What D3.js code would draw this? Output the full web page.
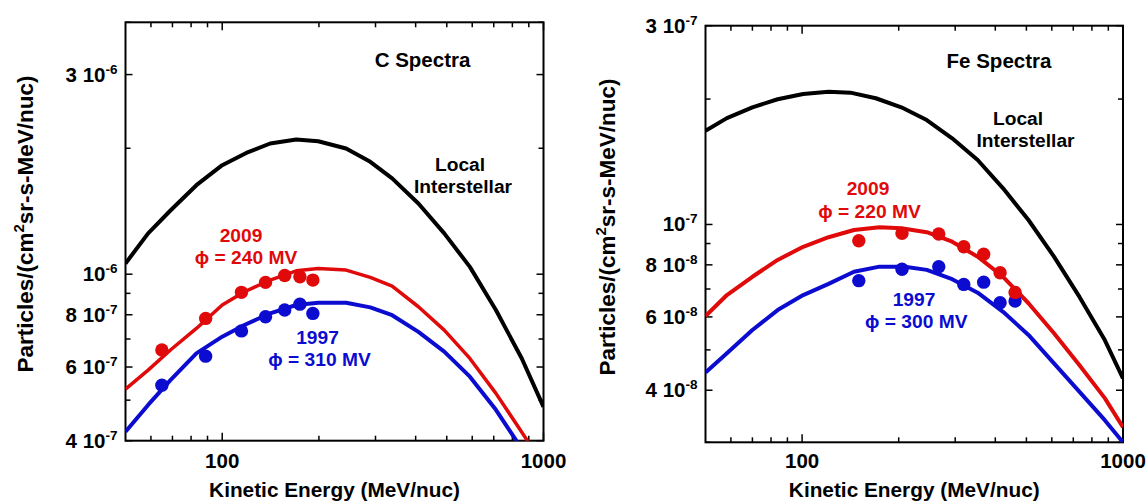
<!DOCTYPE html>
<html>
<head>
<meta charset="utf-8">
<script src="https://cdn.jsdelivr.net/npm/d3@7"></script>
<style>
  html, body { margin: 0; padding: 0; background: #fff; }
  svg text { font-family: "Liberation Sans", Arial, Helvetica, sans-serif; font-weight: bold; }
</style>
</head>
<body>
<svg id="chart" width="1146" height="504"></svg>
<script>
// ---------- DATA ----------
// C panel
const cLisE = [50, 58.8, 69, 83.1, 100, 118.8, 141, 170, 199, 243, 289, 338, 408, 491, 590, 711, 856, 1000];
const cLisF = [1.061e-6, 1.252e-6, 1.42e-6, 1.632e-6, 1.822e-6, 1.949e-6, 2.053e-6, 2.098e-6, 2.079e-6, 1.997e-6, 1.856e-6, 1.694e-6, 1.476e-6, 1.252e-6, 1.041e-6, 8.21e-7, 6.29e-7, 4.82e-7];
const c2009ModelE = [50, 58.8, 69, 83.1, 100, 117.2, 141, 170, 199, 243, 289, 338, 408, 491, 590, 711, 834, 891, 1000];
const c2009ModelF = [5.31e-7, 5.9e-7, 6.59e-7, 7.42e-7, 8.44e-7, 9.08e-7, 9.68e-7, 1.019e-6, 1.032e-6, 1.023e-6, 9.83e-7, 9.36e-7, 8.36e-7, 7.35e-7, 6.29e-7, 5.19e-7, 4.32e-7, 4.0e-7, 3.5e-7];
const c1997ModelE = [50, 58.8, 69, 83.1, 100, 117.2, 141, 170, 199, 243, 289, 338, 408, 491, 590, 711, 823, 1000];
const c1997ModelF = [4.20e-7, 4.87e-7, 5.58e-7, 6.47e-7, 7.09e-7, 7.56e-7, 8.06e-7, 8.44e-7, 8.55e-7, 8.55e-7, 8.33e-7, 7.98e-7, 7.28e-7, 6.53e-7, 5.69e-7, 4.74e-7, 4.0e-7, 3.3e-7];
const cDataE = [64.9, 88.8, 114.8, 136.4, 156.5, 174.5, 191.5];
const c2009Data = [6.59e-7, 7.84e-7, 9.05e-7, 9.56e-7, 9.93e-7, 9.86e-7, 9.68e-7];
const c1997Data = [5.43e-7, 6.37e-7, 7.32e-7, 7.91e-7, 8.21e-7, 8.48e-7, 8.06e-7];
const cYLabels = [4e-7, 6e-7, 8e-7, 1e-6, 3e-6];

// Fe panel
const feLisE = [50, 58.3, 70, 83.9, 100.8, 120.9, 141.4, 169.7, 203.8, 244.6, 293.5, 352.5, 423, 507.5, 609.5, 731, 877.6, 1000];
const feLisF = [1.679e-7, 1.80e-7, 1.911e-7, 1.998e-7, 2.057e-7, 2.083e-7, 2.072e-7, 2.009e-7, 1.911e-7, 1.781e-7, 1.61e-7, 1.428e-7, 1.221e-7, 1.025e-7, 8.37e-8, 6.71e-8, 5.28e-8, 4.27e-8];
const fe2009ModelE = [50, 58.3, 70, 83.9, 100.8, 120.9, 145.1, 174.3, 203.8, 244.6, 293.5, 352.5, 423, 507.5, 609.5, 731, 877.6, 1000];
const fe2009ModelF = [6.03e-8, 6.77e-8, 7.49e-8, 8.22e-8, 8.84e-8, 9.32e-8, 9.70e-8, 9.85e-8, 9.79e-8, 9.58e-8, 9.09e-8, 8.37e-8, 7.49e-8, 6.47e-8, 5.48e-8, 4.60e-8, 3.83e-8, 3.26e-8];
const fe1997ModelE = [50, 58.3, 70, 83.9, 100.8, 120.9, 145.1, 174.3, 209, 244.6, 293.5, 352.5, 423, 507.5, 609.5, 731, 877.6, 1000];
const fe1997ModelF = [4.41e-8, 4.91e-8, 5.58e-8, 6.23e-8, 6.77e-8, 7.20e-8, 7.70e-8, 7.92e-8, 7.92e-8, 7.78e-8, 7.39e-8, 6.86e-8, 6.17e-8, 5.43e-8, 4.64e-8, 3.97e-8, 3.39e-8, 3.0e-8];
const feDataE = [150.2, 204.8, 266.6, 319, 368, 414, 461];
const fe2009Data = [9.14e-8, 9.52e-8, 9.49e-8, 8.84e-8, 8.48e-8, 7.66e-8, 6.87e-8];
const fe1997Data = [7.33e-8, 7.81e-8, 7.92e-8, 7.18e-8, 7.27e-8, 6.49e-8, 6.55e-8];
const feYLabels = [4e-8, 6e-8, 8e-8, 1e-7, 3e-7];

const xLabels = [100, 1000];
const xTitle = "Kinetic Energy (MeV/nuc)";

// ---------- STYLE ----------
const RED = "#e00a0a", BLUE = "#0c0cd0", BLACK = "#000";

const svg = d3.select("#chart");

function zip(a, b) { return a.map((v, i) => [v, b[i]]); }

function drawPanel(cfg) {
  const x = d3.scaleLog().domain([50, 1000]).range([cfg.x0, cfg.x1]);
  const y = d3.scaleLog().domain(cfg.yDomain).range([cfg.y1, cfg.y0]);
  const g = svg.append("g");
  const clipId = "clip" + cfg.id;
  svg.append("defs").append("clipPath").attr("id", clipId)
    .append("rect").attr("x", cfg.x0).attr("y", cfg.y0)
    .attr("width", cfg.x1 - cfg.x0).attr("height", cfg.y1 - cfg.y0);

  // ticks (inward on all four sides)
  const xTicks = [];
  for (let d = 10; d <= 1000; d *= 10) for (let m = 1; m <= 9; m++) {
    const v = m * d; if (v > 50 && v <= 1000) xTicks.push(v);
  }
  const yTicks = [];
  const e0 = Math.floor(Math.log10(cfg.yDomain[0]));
  for (let e = e0; e <= e0 + 1; e++) for (let m = 1; m <= 9; m++) {
    const v = m * Math.pow(10, e);
    if (v >= cfg.yDomain[0] * 0.999 && v <= cfg.yDomain[1] * 1.001) yTicks.push(v);
  }
  const tg = g.append("g").attr("stroke", "#000").attr("stroke-width", 1.5);
  xTicks.forEach(v => {
    const len = (v === 100 || v === 1000) ? 8 : 5;
    const px = x(v);
    tg.append("line").attr("x1", px).attr("x2", px).attr("y1", cfg.y1).attr("y2", cfg.y1 - len);
    tg.append("line").attr("x1", px).attr("x2", px).attr("y1", cfg.y0).attr("y2", cfg.y0 + len);
  });
  yTicks.forEach(v => {
    const major = cfg.yLabels.some(l => Math.abs(l - v) / v < 1e-6);
    const len = major ? 7 : 5;
    const py = y(v);
    tg.append("line").attr("x1", cfg.x0).attr("x2", cfg.x0 + len).attr("y1", py).attr("y2", py);
    tg.append("line").attr("x1", cfg.x1).attr("x2", cfg.x1 - len).attr("y1", py).attr("y2", py);
  });
  // frame
  g.append("rect").attr("x", cfg.x0).attr("y", cfg.y0)
    .attr("width", cfg.x1 - cfg.x0).attr("height", cfg.y1 - cfg.y0)
    .attr("fill", "none").attr("stroke", "#000").attr("stroke-width", 2);

  // y tick labels
  cfg.yLabels.forEach(v => {
    const e = Math.floor(Math.log10(v) + 1e-9);
    const m = Math.round(v / Math.pow(10, e));
    const t = g.append("text").attr("x", cfg.x0 - 8).attr("y", y(v) + 7)
      .attr("text-anchor", "end").attr("font-size", 20.5).attr("fill", "#000");
    t.append("tspan").text(m === 1 ? "10" : m + " 10");
    t.append("tspan").attr("dy", -8).attr("font-size", 13.5).text(String(e));
  });
  // x tick labels
  xLabels.forEach(v => {
    g.append("text").attr("x", x(v)).attr("y", 468).attr("text-anchor", "middle")
      .attr("font-size", 20.5).text(v);
  });
  // axis titles
  g.append("text").attr("x", (cfg.x0 + cfg.x1) / 2).attr("y", 497)
    .attr("text-anchor", "middle").attr("font-size", 20.8).text(xTitle);
  const yt = g.append("text").attr("transform", `translate(${cfg.ytx},${cfg.yty}) rotate(-90)`)
    .attr("text-anchor", "middle").attr("font-size", 22.5);
  yt.append("tspan").text("Particles/(cm");
  yt.append("tspan").attr("dy", -9).attr("font-size", 15).text("2");
  yt.append("tspan").attr("dy", 9).text("sr-s-MeV/nuc)");

  // curves
  const line = d3.line().x(d => x(d[0])).y(d => y(d[1]));
  const cg = g.append("g").attr("clip-path", `url(#${clipId})`).attr("fill", "none")
    .attr("stroke-linejoin", "round");
  cg.append("path").attr("d", line(zip(cfg.lisE, cfg.lisF))).attr("stroke", BLACK).attr("stroke-width", 4);
  cg.append("path").attr("d", line(zip(cfg.m1997E, cfg.m1997F))).attr("stroke", BLUE).attr("stroke-width", 4);
  cg.append("path").attr("d", line(zip(cfg.m2009E, cfg.m2009F))).attr("stroke", RED).attr("stroke-width", cfg.redW);

  // data points
  const dg = g.append("g");
  dg.selectAll(".b").data(zip(cfg.dataE, cfg.d1997)).enter().append("circle")
    .attr("cx", d => x(d[0])).attr("cy", d => y(d[1])).attr("r", 6.7).attr("fill", BLUE);
  dg.selectAll(".r").data(zip(cfg.dataE, cfg.d2009)).enter().append("circle")
    .attr("cx", d => x(d[0])).attr("cy", d => y(d[1])).attr("r", 6.7).attr("fill", RED);

  // annotations
  const ann = (txt, ax, ay, col) => g.append("text").attr("x", ax).attr("y", ay)
    .attr("text-anchor", "middle").attr("font-size", 19.2).attr("fill", col).text(txt);
  ann(cfg.title, cfg.titlePos[0], cfg.titlePos[1], BLACK).attr("font-size", 20.5);
  ann("Local", cfg.localPos[0], cfg.localPos[1] - 0.5, BLACK);
  ann("Interstellar", cfg.interPos[0], cfg.interPos[1] + 1, BLACK);
  ann("2009", cfg.y2009Pos[0], cfg.y2009Pos[1] - 0.7, RED);
  ann("\u03D5 = " + cfg.phi2009 + " MV", cfg.p2009Pos[0], cfg.p2009Pos[1] + 1, RED);
  ann("1997", cfg.y1997Pos[0], cfg.y1997Pos[1] - 0.7, BLUE);
  ann("\u03D5 = " + cfg.phi1997 + " MV", cfg.p1997Pos[0], cfg.p1997Pos[1] + 1, BLUE);
}

drawPanel({
  id: "C", x0: 125.5, x1: 543.5, y0: 22.3, y1: 440.7, yDomain: [4e-7, 4e-6],
  yLabels: cYLabels, ytx: 33, yty: 224, redW: 3.5,
  lisE: cLisE, lisF: cLisF, m2009E: c2009ModelE, m2009F: c2009ModelF,
  m1997E: c1997ModelE, m1997F: c1997ModelF,
  dataE: cDataE, d2009: c2009Data, d1997: c1997Data,
  title: "C Spectra", titlePos: [422.5, 66.5],
  localPos: [460, 171.5], interPos: [463, 192],
  y2009Pos: [241, 242.5], p2009Pos: [246, 263], phi2009: 240,
  y1997Pos: [317.5, 345], p1997Pos: [319.5, 365], phi1997: 310
});
drawPanel({
  id: "Fe", x0: 705.5, x1: 1123, y0: 25.7, y1: 442.3, yDomain: [3e-8, 3e-7],
  yLabels: feYLabels, ytx: 615, yty: 227, redW: 4,
  lisE: feLisE, lisF: feLisF, m2009E: fe2009ModelE, m2009F: fe2009ModelF,
  m1997E: fe1997ModelE, m1997F: fe1997ModelF,
  dataE: feDataE, d2009: fe2009Data, d1997: fe1997Data,
  title: "Fe Spectra", titlePos: [999, 68.3],
  localPos: [1018, 125], interPos: [1025.5, 146],
  y2009Pos: [868, 196], p2009Pos: [869.5, 216.7], phi2009: 220,
  y1997Pos: [914, 306.7], p1997Pos: [916.3, 326.7], phi1997: 300
});
</script>
</body>
</html>
